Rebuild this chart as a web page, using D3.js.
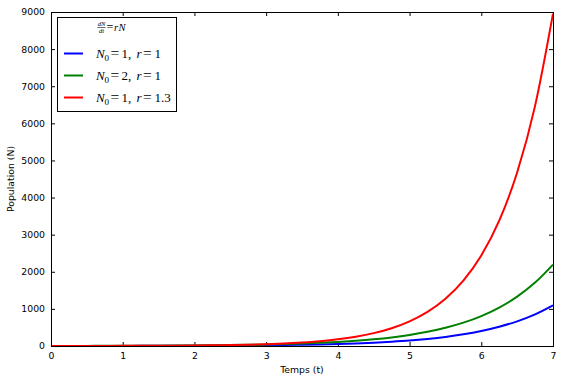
<!DOCTYPE html>
<html>
<head>
<meta charset="utf-8">
<script src="https://cdn.jsdelivr.net/npm/d3@7"></script>
<style>
  body { margin: 0; background: #fff; }
  svg { display: block; font-family: "DejaVu Sans", sans-serif; }
  .math { font-family: "Liberation Serif", serif; }
</style>
</head>
<body>
<div id="chart"></div>
<script>
// Time samples (t)
const times = [0, 0.25, 0.5, 0.75, 1, 1.25, 1.5, 1.75, 2, 2.25, 2.5, 2.75, 3, 3.25, 3.5, 3.75,
  4, 4.25, 4.5, 4.75, 5, 5.25, 5.5, 5.75, 6, 6.25, 6.5, 6.75, 7];

// Population values
const popN1r1 = [1, 1.3, 1.6, 2.1, 2.7, 3.5, 4.5, 5.8, 7.4, 9.5, 12, 16, 20, 26, 33, 43,
  55, 70, 90, 116, 148, 191, 245, 314, 403, 518, 665, 854, 1097];
const popN2r1 = [2, 2.6, 3.3, 4.2, 5.4, 7, 9, 11.5, 15, 19, 24, 31, 40, 52, 66, 85,
  109, 140, 180, 231, 297, 382, 490, 629, 807, 1036, 1330, 1708, 2193];
const popN1r13 = [1, 1.4, 1.9, 2.7, 3.7, 5.1, 7, 9.7, 13.5, 18.6, 26, 36, 49, 68, 95, 131,
  181, 251, 347, 480, 665, 920, 1274, 1763, 2440, 3378, 4675, 6471, 8955];

const xTicks = [0, 1, 2, 3, 4, 5, 6, 7];
const yTicks = [0, 1000, 2000, 3000, 4000, 5000, 6000, 7000, 8000, 9000];

// Legend labels: N0 and r for each curve
const legendN0 = ["1", "2", "1"];
const legendR = ["1", "1", "1.3"];

const seriesColors = ["#0000ff", "#008000", "#ff0000"];

const width = 562, height = 383;
const margin = { top: 12, right: 9, bottom: 37, left: 51 };
const innerWidth = width - margin.left - margin.right;
const innerHeight = height - margin.top - margin.bottom;

const svg = d3.select("#chart")
  .append("svg")
    .attr("width", width)
    .attr("height", height);

const innerChart = svg
  .append("g")
    .attr("transform", `translate(${margin.left}, ${margin.top})`);

// Scales
const xScale = d3.scaleLinear()
  .domain([0, 7])
  .range([0, innerWidth]);
const yScale = d3.scaleLinear()
  .domain([0, 9000])
  .range([innerHeight, 0]);

// Axes (matplotlib classic: ticks inside, on all four sides)
const styleAxis = (g) => {
  g.select(".domain").remove();
  g.selectAll(".tick line").attr("stroke", "#000");
  g.selectAll(".tick text")
    .attr("fill", "#000")
    .style("font-size", "9.3px")
    .style("font-family", "'DejaVu Sans', sans-serif");
};
const noLabels = (g) => {
  g.select(".domain").remove();
  g.selectAll(".tick text").remove();
  g.selectAll(".tick line").attr("stroke", "#000");
};

innerChart.append("g")
    .attr("transform", `translate(0, ${innerHeight})`)
    .call(d3.axisBottom(xScale).tickValues(xTicks).tickFormat(d3.format("d"))
      .tickSizeInner(-4).tickSizeOuter(0).tickPadding(6))
    .call(styleAxis);
innerChart.append("g")
    .call(d3.axisTop(xScale).tickValues(xTicks)
      .tickSizeInner(-4).tickSizeOuter(0))
    .call(noLabels);
innerChart.append("g")
    .call(d3.axisLeft(yScale).tickValues(yTicks).tickFormat(d3.format("d"))
      .tickSizeInner(-4).tickSizeOuter(0).tickPadding(6))
    .call(styleAxis);
innerChart.append("g")
    .attr("transform", `translate(${innerWidth}, 0)`)
    .call(d3.axisRight(yScale).tickValues(yTicks)
      .tickSizeInner(-4).tickSizeOuter(0))
    .call(noLabels);

// Curves
const series = [popN1r1, popN2r1, popN1r13];
const lineGenerator = d3.line()
  .x((d, i) => xScale(times[i]))
  .y(d => yScale(d))
  .curve(d3.curveMonotoneX);

innerChart.append("g")
  .selectAll("path")
  .data(series)
  .join("path")
    .attr("d", d => lineGenerator(d))
    .attr("fill", "none")
    .attr("stroke", (d, i) => seriesColors[i])
    .attr("stroke-width", 2);

// Frame
innerChart.append("rect")
    .attr("x", 0.5)
    .attr("y", 0.5)
    .attr("width", innerWidth)
    .attr("height", innerHeight)
    .attr("fill", "none")
    .attr("stroke", "#000")
    .attr("stroke-width", 1);

// Axis labels
svg.append("text")
    .attr("x", margin.left + innerWidth / 2)
    .attr("y", 373)
    .attr("text-anchor", "middle")
    .style("font-size", "9.3px")
    .text("Temps (t)");
svg.append("text")
    .attr("transform", `translate(14, ${margin.top + innerHeight / 2}) rotate(-90)`)
    .attr("text-anchor", "middle")
    .style("font-size", "9.3px")
    .text("Population (N)");

// Legend
const legend = svg.append("g");
legend.append("rect")
    .attr("x", 57.5)
    .attr("y", 17.5)
    .attr("width", 119)
    .attr("height", 94)
    .attr("fill", "#fff")
    .attr("stroke", "#000");

// Legend title: dN/dt = rN
const title = legend.append("g").attr("class", "math");
title.append("text")
    .attr("x", 101.5).attr("y", 25.5)
    .attr("text-anchor", "middle")
    .style("font-size", "6.5px")
    .style("font-style", "italic")
    .text("dN");
title.append("line")
    .attr("x1", 97.5).attr("x2", 105.5)
    .attr("y1", 27.5).attr("y2", 27.5)
    .attr("stroke", "#000")
    .attr("stroke-width", 0.6);
title.append("text")
    .attr("x", 101.5).attr("y", 33)
    .attr("text-anchor", "middle")
    .style("font-size", "6.5px")
    .style("font-style", "italic")
    .text("dt");
const titleRest = title.append("text")
    .attr("y", 30.5)
    .style("font-size", "10.5px");
titleRest.append("tspan").attr("x", 106.5).style("font-size", "12px").text("=");
titleRest.append("tspan").attr("x", 114).style("font-style", "italic").text("r");
titleRest.append("tspan").attr("x", 118.5).style("font-style", "italic").text("N");

const entries = legend.selectAll(".entry")
  .data(legendN0)
  .join("g")
    .attr("class", "entry")
    .attr("transform", (d, i) => `translate(0, ${53.5 + i * 22})`);
entries.append("line")
    .attr("x1", 64).attr("x2", 83)
    .attr("y1", 0).attr("y2", 0)
    .attr("stroke", (d, i) => seriesColors[i])
    .attr("stroke-width", 2);
const entryText = entries.append("text")
    .attr("class", "math")
    .attr("y", 4)
    .style("font-size", "13px");
entryText.append("tspan").attr("x", 96).style("font-style", "italic").text("N");
entryText.append("tspan").attr("x", 104.5).attr("dy", 3).style("font-size", "9px").text("0");
entryText.append("tspan").attr("x", 110.5).attr("dy", -3).style("font-size", "15.5px").text("=");
entryText.append("tspan").attr("x", 121.5).text(d => `${d},`);
entryText.append("tspan").attr("x", 136.5).style("font-style", "italic").text("r");
entryText.append("tspan").attr("x", 143).style("font-size", "15.5px").text("=");
entryText.append("tspan").attr("x", 154.5).text((d, i) => legendR[i]);
</script>
</body>
</html>
